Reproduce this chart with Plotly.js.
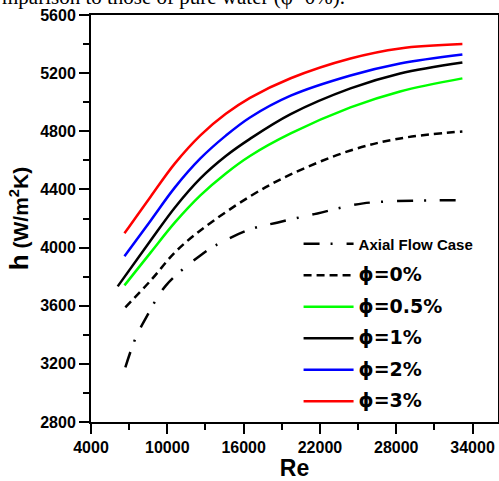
<!DOCTYPE html>
<html>
<head>
<meta charset="utf-8">
<script src="https://cdn.plot.ly/plotly-3.0.1.min.js"></script>
<style>html,body{margin:0;padding:0;background:#fff;overflow:hidden;}#chart{width:499px;height:481px;}</style>
</head>
<body>
<div id="chart"></div>
<script>
// Data
const reAxial = [6700, 7500, 8300, 9900, 12600, 13800, 16500, 18700, 21800, 25400, 30700, 33200];
const hAxial  = [3176, 3376, 3513, 3740, 3946, 4015, 4125, 4173, 4235, 4304, 4325, 4325];

const rePhi0 = [6700, 8700, 10600, 12600, 16500, 19700, 24400, 28300, 33200];
const hPhi0  = [3589, 3774, 3967, 4118, 4352, 4503, 4668, 4751, 4799];

const rePhi05 = [6630, 8700, 10600, 12600, 14600, 16500, 19700, 24400, 28300, 33200];
const hPhi05  = [3740, 3967, 4173, 4359, 4510, 4630, 4785, 4964, 5074, 5164];

const rePhi1 = [6100, 8700, 10600, 12600, 14600, 16500, 19700, 24400, 28300, 33200];
const hPhi1  = [3733, 4050, 4276, 4476, 4630, 4748, 4918, 5095, 5198, 5274];

const rePhi2 = [6630, 8700, 10600, 12600, 14600, 16500, 19700, 24400, 28300, 33200];
const hPhi2  = [3940, 4187, 4414, 4613, 4770, 4895, 5045, 5184, 5267, 5329];

const rePhi3 = [6630, 8700, 10600, 12600, 14600, 16500, 19700, 24400, 28300, 33200];
const hPhi3  = [4098, 4352, 4579, 4772, 4920, 5030, 5165, 5301, 5370, 5400];

const seriesNames = ['Axial Flow Case', 'ϕ=0%', 'ϕ=0.5%', 'ϕ=1%', 'ϕ=2%', 'ϕ=3%'];
const xTickVals = [4000, 10000, 16000, 22000, 28000, 34000];
const yTickVals = [2800, 3200, 3600, 4000, 4400, 4800, 5200, 5600];

const phiName = n => '<span style="font-family:DejaVu Sans;font-size:19px;font-weight:bold">' + n + '</span>';
const axialName = n => '<span style="font-family:Arial;font-size:15px;font-weight:bold">' + n + '</span>';

function tr(x, y, name, color, dash, group) {
  return {
    x: x, y: y, name: name, type: 'scatter', mode: 'lines',
    line: {color: color, width: 2.5, dash: dash, shape: 'spline', smoothing: 1},
    legendgroup: group, hoverinfo: 'skip'
  };
}

const data = [
  tr(reAxial, hAxial, axialName(seriesNames[0]), '#000000', '16px,11px,2px,14px', 'g0'),
  tr(rePhi0, hPhi0, phiName(seriesNames[1]), '#000000', '8px,5px', 'g1'),
  tr(rePhi05, hPhi05, phiName(seriesNames[2]), '#00ff00', 'solid', 'g2'),
  tr(rePhi1, hPhi1, phiName(seriesNames[3]), '#000000', 'solid', 'g3'),
  tr(rePhi2, hPhi2, phiName(seriesNames[4]), '#0000ff', 'solid', 'g4'),
  tr(rePhi3, hPhi3, phiName(seriesNames[5]), '#ff0000', 'solid', 'g5')
];

const tickFont = {family: 'Arial', size: 16, color: '#000', weight: 'bold'};

const layout = {
  width: 499, height: 481,
  margin: {l: 91, r: 1, t: 15, b: 59},
  paper_bgcolor: '#fff', plot_bgcolor: '#fff',
  showlegend: true,
  legend: {
    x: 0.51, y: 0.478, xanchor: 'left', yanchor: 'top',
    bgcolor: 'rgba(0,0,0,0)', borderwidth: 0,
    font: {family: 'Arial', size: 15, color: '#000', weight: 'bold'},
    tracegroupgap: 9, itemwidth: 50
  },
  xaxis: {
    range: [4000, 36000], tickvals: xTickVals, ticktext: xTickVals.map(String),
    showgrid: false, zeroline: false, showline: true, linecolor: '#000', linewidth: 2, mirror: true,
    ticks: 'outside', ticklen: 10, tickwidth: 2, tickcolor: '#000',
    minor: {tickvals: [7000, 13000, 19000, 25000, 31000], ticks: 'outside', ticklen: 6, tickwidth: 2, tickcolor: '#000'},
    tickfont: tickFont,
    title: {text: 'Re', font: {family: 'Arial', size: 23, color: '#000', weight: 'bold'}, standoff: 5}
  },
  yaxis: {
    range: [2800, 5600], tickvals: yTickVals, ticktext: yTickVals.map(String),
    showgrid: false, zeroline: false, showline: true, linecolor: '#000', linewidth: 2, mirror: true,
    ticks: 'outside', ticklen: 10, tickwidth: 2, tickcolor: '#000',
    minor: {tickvals: [3000, 3400, 3800, 4200, 4600, 5000, 5400], ticks: 'outside', ticklen: 6, tickwidth: 2, tickcolor: '#000'},
    tickfont: tickFont,
    title: {text: '<span style="font-size:26px">h</span> (W/m<sup>2</sup>K)', font: {family: 'Arial', size: 21, color: '#000', weight: 'bold'}, standoff: 6}
  },
  annotations: [{
    text: 'mparison to those of pure water (φ=0%).',
    xref: 'paper', yref: 'paper', x: -0.2236, y: 1.044, xanchor: 'left', yanchor: 'middle',
    showarrow: false, font: {family: 'Liberation Serif', size: 21, color: '#000'}
  }]
};

Plotly.newPlot('chart', data, layout, {displayModeBar: false, staticPlot: true});
</script>
</body>
</html>
